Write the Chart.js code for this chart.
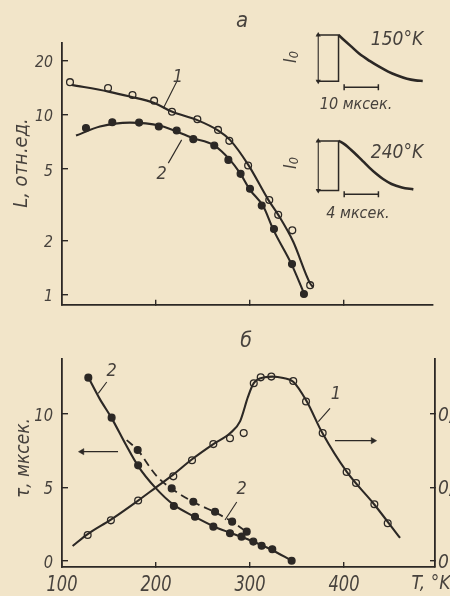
<!DOCTYPE html>
<html><head><meta charset="utf-8">
<script src="https://cdn.jsdelivr.net/npm/chart.js@4.4.1/dist/chart.umd.min.js"></script>
<style>
html,body{margin:0;padding:0;background:#f2e5c9;}
#wrap{position:relative;width:450px;height:596px;overflow:hidden;background:#f2e5c9;}
canvas{position:absolute;}
.t{position:absolute;font-family:"Liberation Sans Narrow","DejaVu Sans Condensed","Liberation Sans",sans-serif;font-style:italic;color:#47423d;white-space:nowrap;line-height:1;transform:translate(-50%,-50%);}
sub{font-size:70%;vertical-align:-0.15em;}
</style></head><body>
<div id="wrap">
<canvas id="top" width="450" height="310" style="left:0;top:0"></canvas>
<canvas id="bot" width="450" height="286" style="left:0;top:310px"></canvas>
<canvas id="in1" width="170" height="100" style="left:280px;top:20px"></canvas>
<canvas id="in2" width="170" height="100" style="left:280px;top:125px"></canvas>
</div>
<script>
// ---------- panel a: L (rel. units) vs T ----------
const L_TICKS = [1, 2, 5, 10, 20];
const T_TICKS = [100, 200, 300, 400];
const T_L1 = [108.5,149,175,198,217,244,266,278,298,320.5,330,345,364];
const L1   = [15.2,14.1,12.9,12.0,10.4,9.46,8.25,7.17,5.23,3.36,2.78,2.28,1.13];
const T_L1fit = [110.3,149.3,172.3,198.2,216.7,243.3,266.3,278.7,298.2,319.5,330.1,346,363.8,367.3];
const L1fit   = [14.68,13.47,12.64,11.65,10.43,9.38,8.18,7.26,5.27,3.37,2.78,1.97,1.16,1.10];
const T_L2 = [125.5,153.5,182,203,222,239.7,262,277,290,300,312.5,325.5,344.7,357.4];
const L2   = [8.44,9.10,9.06,8.61,8.18,7.33,6.75,5.62,4.70,3.88,3.13,2.32,1.48,1.01];
const T_L2fit = [114.9,140.4,172.3,204.3,239.7,261,278.7,289.4,300,314.1,324.8,344.4,356.7];
const L2fit   = [7.67,8.61,9.05,8.69,7.42,6.81,5.62,4.74,3.83,3.1,2.30,1.47,1.04];

// ---------- panel б: tau (µs) vs T, and right-axis quantity ----------
const TAU_TICKS = [0, 5, 10];
const R_TICKS = [0, 0.1, 0.2];
const T_R1 = [127.3,152,181,218.4,238.3,261,278.7,293.3,304,311.4,322.7,346,359.6,377.3,402.8,412.8,432.3,446.5];
const R1   = [0.035,0.055,0.082,0.115,0.137,0.159,0.167,0.174,0.242,0.250,0.251,0.245,0.217,0.174,0.121,0.106,0.077,0.051];
const T_R1fit = [111.3,127,152,181,200,218,238,261,279,289.4,298,304,315.6,324,335.4,346,360,377,403,432,459.6];
const R1fit   = [0.020,0.036,0.056,0.082,0.100,0.117,0.138,0.159,0.174,0.190,0.224,0.242,0.250,0.251,0.249,0.244,0.218,0.174,0.121,0.077,0.031];
const T_TAU2 = [128,152.8,181,219,241.5,261,278.7,291,303.5,312.4,323.7,344.3];
const TAU2   = [12.48,9.75,6.5,3.73,3.0,2.32,1.87,1.64,1.3,1.02,0.78,0.0];
const T_TAU2d = [180.5,216.7,239.7,262.8,281,296.5];
const TAU2d   = [7.55,4.93,4.02,3.34,2.66,1.98];
const T_TAU2fit = [128,140,152.8,168,181,199,219,241,261,279,300,323,344.3];
const TAU2fit   = [12.5,11.05,9.72,7.9,6.45,5.0,3.8,3.0,2.35,1.9,1.4,0.75,0.0];
const T_TAU2dfit = [168.8,180.5,195.4,202.4,216.7,239.7,262.8,281,296.5];
const TAU2dfit   = [8.22,7.55,6.2,5.65,4.9,4.0,3.3,2.65,1.95];

// ---------- insets: luminescence pulses ----------
const t150 = [0,1.5,3.6,6,9.1,12,14.5,17,20,22.5,24.6];
const I150 = [1,0.9,0.76,0.6,0.44,0.31,0.21,0.13,0.055,0.02,0.008];
const t240 = [0,0.36,0.8,1.45,2.2,2.9,3.6,4.37,5.2,6.19,7.4,8.74];
const I240 = [1,0.97,0.92,0.82,0.70,0.58,0.46,0.34,0.23,0.13,0.06,0.02];

const INK = '#2c2825', TXT = '#47423d', BG = '#f2e5c9';
const xy = (xs, ys) => xs.map((x, i) => ({x, y: ys[i]}));
const seg = (a, b) => [{x:a[0], y:a[1]}, {x:b[0], y:b[1]}];

function fitLine(data, yAxisID, extra) {
  return Object.assign({data, yAxisID, borderColor: INK, borderWidth: 2.1, pointRadius: 0,
    cubicInterpolationMode: 'monotone', fill: false}, extra || {});
}
function pts(data, yAxisID, open) {
  return {data, yAxisID, showLine: false, pointRadius: 3.4, pointBorderWidth: 1.3,
    pointBorderColor: INK, pointBackgroundColor: open ? BG : INK};
}
function thin(data, yAxisID, extra) {
  return Object.assign({data, yAxisID, borderColor: INK, borderWidth: 1.1, pointRadius: 0, fill: false, tension: 0}, extra || {});
}
function arrow(data, yAxisID, rot) {
  return {data, yAxisID, borderColor: INK, borderWidth: 1.2, tension: 0,
    pointRadius: [0, 3.6], pointStyle: 'triangle', pointRotation: rot,
    pointBackgroundColor: INK, pointBorderColor: INK, pointBorderWidth: 0.5};
}
const fixTicks = vals => (s => { s.ticks = vals.map(v => ({value: v})); });
const fitW = w => (s => { s.width = w; s.paddingTop = 0; s.paddingBottom = 0; });
const fitH = h => (s => { s.height = h; s.paddingLeft = 0; s.paddingRight = 0; });
const axis = (extra, tl) => Object.assign({
  ticks: {display: false},
  grid: {drawOnChartArea: false, tickLength: tl, color: INK, lineWidth: 1.4},
  border: {display: true, color: INK, width: 1.8}}, extra);
const base = {responsive: false, animation: false, devicePixelRatio: 1,
  plugins: {legend: {display: false}, tooltip: {enabled: false}}, events: []};

// ---- top chart ----
const topChart = new Chart(document.getElementById('top'), {
  type: 'line',
  data: {datasets: [
    fitLine(xy(T_L1fit, L1fit), 'y'),
    fitLine(xy(T_L2fit, L2fit), 'y'),
    pts(xy(T_L1, L1), 'y', true),
    pts(xy(T_L2, L2), 'y', false),
    thin(seg([222.0, 15.3], [207.8, 10.9]), 'y'),
    thin(seg([213.1, 5.39], [227.3, 7.26]), 'y')
  ]},
  options: Object.assign({}, base, {
    layout: {padding: {left: 0, right: 17, top: 43, bottom: 5}},
    scales: {
      x: axis({type: 'linear', min: 100, max: 494.7, afterBuildTicks: fixTicks(T_TICKS.slice(1)), afterFit: fitH(0)}, -5),
      y: axis({type: 'logarithmic', min: 0.88, max: 25.1, afterBuildTicks: fixTicks(L_TICKS), afterFit: fitW(62)}, -6)
    }
  })
});

// ---- bottom chart ----
const botChart = new Chart(document.getElementById('bot'), {
  type: 'line',
  data: {datasets: [
    fitLine(xy(T_R1fit, R1fit), 'y2'),
    fitLine(xy(T_TAU2fit, TAU2fit), 'y'),
    fitLine(xy(T_TAU2dfit, TAU2dfit), 'y', {borderDash: [8, 5], borderWidth: 1.8}),
    pts(xy(T_R1, R1), 'y2', true),
    pts(xy(T_TAU2, TAU2), 'y', false),
    pts(xy(T_TAU2d, TAU2d), 'y', false),
    thin(seg([147.6, 12.18], [138.6, 11.41]), 'y'),
    thin(seg([285.9, 4.0], [273.4, 2.77]), 'y'),
    thin(seg([385.1, 10.39], [372.7, 9.48]), 'y'),
    arrow(seg([159.6, 7.43], [121.3, 7.43]), 'y', -90),
    arrow(seg([390.4, 8.18], [430.9, 8.18]), 'y', 90)
  ]},
  options: Object.assign({}, base, {
    layout: {padding: {left: 0, right: 0, top: 49, bottom: 0}},
    scales: {
      x: axis({type: 'linear', min: 100, max: 496.8, afterBuildTicks: fixTicks(T_TICKS), afterFit: fitH(29)}, -5),
      y: axis({type: 'linear', position: 'left', min: -0.43, max: 13.75, afterBuildTicks: fixTicks(TAU_TICKS), afterFit: fitW(62)}, -6),
      y2: axis({type: 'linear', position: 'right', min: -0.0086, max: 0.275, afterBuildTicks: fixTicks(R_TICKS), afterFit: fitW(15)}, -5)
    }
  })
});

// ---- insets ----
function inset(id, ts, Is, box, bar, xr, yr) {
  new Chart(document.getElementById(id), {
    type: 'line',
    data: {datasets: [
      thin([{x: box[0], y: 1}, {x: 0, y: 1}, {x: 0, y: 0}, {x: box[0], y: 0}], 'y', {borderWidth: 1.5}),
      {data: seg([box[1], 0], [box[1], 1]), borderColor: INK, borderWidth: 1.1, tension: 0,
       pointRadius: 3, pointStyle: 'triangle', pointRotation: [180, 0],
       pointBackgroundColor: INK, pointBorderColor: INK, pointBorderWidth: 0},
      fitLine(xy(ts, Is), 'y', {borderWidth: 2.6}),
      {data: seg([bar[0], bar[2]], [bar[1], bar[2]]), borderColor: INK, borderWidth: 1.5, tension: 0,
       pointRadius: 3, pointStyle: 'line', pointRotation: 90, pointBorderColor: INK, pointBorderWidth: 1.5}
    ]},
    options: Object.assign({}, base, {
      layout: {padding: 0},
      scales: {
        x: {type: 'linear', display: false, min: xr[0], max: xr[1]},
        y: {type: 'linear', display: false, min: yr[0], max: yr[1]}
      }
    })
  });
}
inset('in1', t150, I150, [-6.39, -5.93], [1.64, 11.64, -0.127], [-15.49, 30.96], [-0.717, 1.206]);
inset('in2', t240, I240, [-2.56, -2.37], [0.66, 4.66, -0.079], [-6.197, 12.38], [-0.588, 1.210]);

// ---- text ----
const wrap = document.getElementById('wrap');
function addText(html, x, y, size, tf, origin) {
  const d = document.createElement('div');
  d.className = 't';
  d.innerHTML = html;
  d.style.left = x + 'px'; d.style.top = y + 'px'; d.style.fontSize = size + 'px';
  if (tf) d.style.transform = tf;
  if (origin) d.style.transformOrigin = origin;
  wrap.appendChild(d);
}
// tick labels, positioned through the charts' own scales
const fmt = v => String(v).replace('.', ',');
L_TICKS.forEach(v => addText(fmt(v), 53, topChart.scales.y.getPixelForValue(v) + 1.5, 16.5,
  'translate(-100%,-50%) scaleX(0.95)', 'right center'));
T_TICKS.forEach(v => addText(fmt(v), botChart.scales.x.getPixelForValue(v), 583.5, 22,
  'translate(-50%,-50%) scaleX(0.82)', 'center center'));
TAU_TICKS.forEach(v => addText(fmt(v), 53, 310 + botChart.scales.y.getPixelForValue(v) + 1, 18.5,
  'translate(-100%,-50%) scaleX(0.88)', 'right center'));
R_TICKS.forEach(v => addText(fmt(v), 438, 310 + botChart.scales.y2.getPixelForValue(v), 19,
  'translate(0,-50%)', 'left center'));

const LABELS = [
  ['а', 242, 20, 22, 0], ['б', 246, 340, 21, 0],
  ['L, отн.ед.', 20, 163, 20, 1], ['τ, мксек.', 22, 458, 19, 1],
  ['1', 178, 75.7, 18, 0], ['2', 161.7, 172.5, 18, 0],
  ['2', 111.7, 370, 18, 0], ['2', 241.7, 487.5, 18, 0], ['1', 335.8, 393.3, 18, 0],
  ['T, °K', 431, 582, 19, 0],
  ['150°K', 397, 38, 19, 0], ['240°K', 397, 151, 19, 0],
  ['10 мксек.', 356, 104, 16, 0], ['4 мксек.', 358, 213, 16, 0],
  ['I<sub>0</sub>', 291, 57, 18, 1], ['I<sub>0</sub>', 291, 163, 18, 1]
];
LABELS.forEach(([txt, x, y, size, vert]) =>
  addText(txt, x, y, size, vert ? 'translate(-50%,-50%) rotate(-90deg)' : null, null));
</script>
</body></html>
